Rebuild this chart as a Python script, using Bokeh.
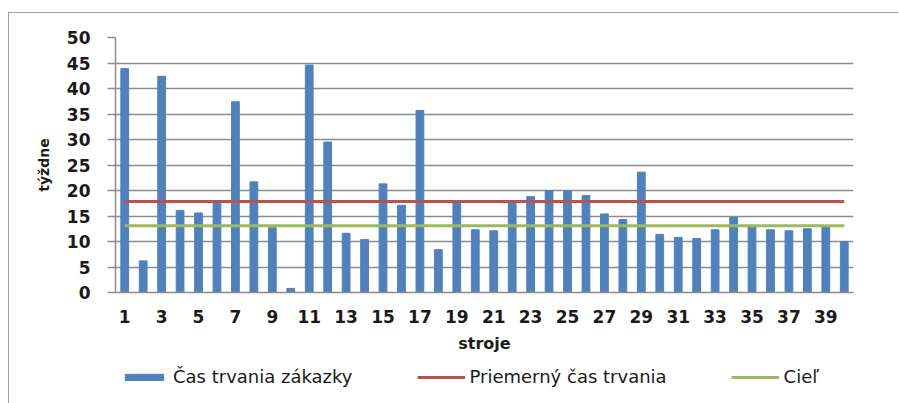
from bokeh.plotting import figure
from bokeh.layouts import column
from bokeh.models import FixedTicker, Legend, LegendItem, Range1d
from bokeh.embed import file_html
from bokeh.resources import INLINE

# Data
stroje = list(range(1, 41))
cas_trvania = [43.9, 6.2, 42.4, 16.1, 15.6, 17.9, 37.4, 21.7, 12.7, 0.8,
               44.6, 29.5, 11.6, 10.4, 21.3, 17.1, 35.7, 8.4, 17.6, 12.3,
               12.1, 17.7, 18.8, 20.0, 20.0, 19.0, 15.4, 14.3, 23.6, 11.4,
               10.8, 10.6, 12.3, 14.7, 12.9, 12.3, 12.1, 12.5, 12.9, 10.0]
priemer = [17.85] * 40
ciel = [13.1] * 40
x_ticks = list(range(1, 40, 2))
y_ticks = list(range(0, 51, 5))
labels = ["Čas trvania zákazky", "Priemerný čas trvania", "Cieľ"]

FONT = "DejaVu Sans"
GRID = "#8c8c8c"
TXT = "#1a1a1a"
BLUE, RED, GREEN = "#4F81BD", "#C0504D", "#9BBB59"
BORDER = "1px solid #a0a0a0"

p = figure(frame_width=737, frame_height=254, output_backend="svg", toolbar_location=None,
           x_range=Range1d(0.5, 40.5), y_range=Range1d(0, 50),
           min_border_left=106, min_border_right=46, min_border_top=24,
           min_border_bottom=70)
p.margin = (12, 0, 0, 8)
p.styles = {"border-left": BORDER, "border-top": BORDER}
p.outline_line_color = None
p.background_fill_color = "white"
p.border_fill_color = "white"

p.vbar(x=stroje, top=cas_trvania, width=0.42, color=BLUE)
p.line(x=stroje, y=priemer, line_color=RED, line_width=3)
p.line(x=stroje, y=ciel, line_color=GREEN, line_width=3)

p.xgrid.grid_line_color = None
p.ygrid.grid_line_color = GRID
p.ygrid.grid_line_width = 1.5
p.ygrid.ticker = FixedTicker(ticks=y_ticks)

p.yaxis.ticker = FixedTicker(ticks=y_ticks)
p.yaxis.axis_line_color = GRID
p.yaxis.axis_line_width = 1.5
p.yaxis.major_tick_line_color = GRID
p.yaxis.major_tick_line_width = 1.5
p.yaxis.major_tick_out = 8
p.yaxis.major_tick_in = 0
p.yaxis.minor_tick_line_color = None
p.yaxis.major_label_text_font = FONT
p.yaxis.major_label_text_font_style = "bold"
p.yaxis.major_label_text_font_size = "17px"
p.yaxis.major_label_text_color = TXT
p.yaxis.major_label_standoff = 17
p.yaxis.axis_label = "týždne"
p.yaxis.axis_label_text_font = FONT
p.yaxis.axis_label_text_font_style = "bold"
p.yaxis.axis_label_text_font_size = "14px"
p.yaxis.axis_label_text_color = TXT
p.yaxis.axis_label_standoff = 12

p.xaxis.ticker = FixedTicker(ticks=x_ticks)
p.xaxis.axis_line_color = GRID
p.xaxis.axis_line_width = 1.5
p.xaxis.major_tick_line_color = None
p.xaxis.minor_tick_line_color = None
p.xaxis.major_label_text_font = FONT
p.xaxis.major_label_text_font_style = "bold"
p.xaxis.major_label_text_font_size = "17px"
p.xaxis.major_label_text_color = TXT
p.xaxis.major_label_standoff = 11
p.xaxis.axis_label = "stroje"
p.xaxis.axis_label_text_font = FONT
p.xaxis.axis_label_text_font_style = "bold"
p.xaxis.axis_label_text_font_size = "16px"
p.xaxis.axis_label_text_color = TXT
p.xaxis.axis_label_standoff = 8

# Legend strip (separate figure so the legend is not clipped)
lg = figure(width=889, height=42, output_backend="svg", toolbar_location=None,
            x_range=Range1d(0.5, 40.5), y_range=Range1d(0, 50),
            min_border=0)
lg.margin = (0, 0, 0, 8)
lg.styles = {"border-left": BORDER}
lg.outline_line_color = None
lg.axis.visible = False
lg.grid.visible = False
lg.border_fill_color = "white"
r_bar = lg.vbar(x=stroje, top=cas_trvania, width=0.42, color=BLUE, visible=False)
r_red = lg.line(x=stroje, y=priemer, line_color=RED, line_width=3, visible=False)
r_green = lg.line(x=stroje, y=ciel, line_color=GREEN, line_width=3, visible=False)

legend = Legend(items=[
    LegendItem(label=labels[0], renderers=[r_bar]),
    LegendItem(label=labels[1], renderers=[r_red]),
    LegendItem(label=labels[2], renderers=[r_green]),
], orientation="horizontal", location=(5, 16))
legend.border_line_color = None
legend.background_fill_alpha = 0
legend.inactive_fill_alpha = 0
legend.label_text_font = FONT
legend.label_text_font_size = "18px"
legend.label_text_color = TXT
legend.glyph_width = 48
legend.glyph_height = 8
legend.label_standoff = 5
legend.spacing = 64
legend.padding = 2
legend.margin = 0
lg.add_layout(legend, "center")

layout = column(p, lg, spacing=0)
open("out.html", "w").write(file_html(layout, INLINE))
